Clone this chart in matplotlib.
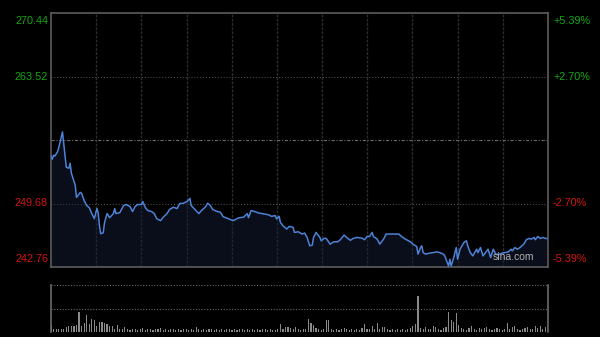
import numpy as np
import matplotlib.pyplot as plt
from matplotlib.transforms import blended_transform_factory

plt.rcParams['font.family'] = ['Liberation Sans', 'DejaVu Sans']

# intraday price (minute of session, price)
minutes = [0, 1, 2, 3, 5, 6, 9, 11, 12, 14, 15, 16, 19, 20, 23, 24, 26, 28, 30, 32,
           34, 36, 37, 38, 39, 41, 42, 44, 46, 49, 50, 51, 54, 57, 59, 62, 64, 66, 68, 71,
           72, 74, 76, 79, 81, 83, 86, 88, 91, 93, 96, 99, 101, 104, 107, 109, 110, 113, 116, 118,
           121, 123, 125, 127, 130, 133, 135, 139, 143, 146, 148, 151, 154, 155, 157, 160, 163, 167, 171, 173,
           176, 177, 179, 180, 182, 185, 187, 190, 191, 194, 197, 199, 201, 203, 205, 206, 208, 211, 212, 214,
           216, 219, 222, 225, 227, 230, 232, 235, 237, 240, 244, 246, 248, 250, 252, 253, 256, 258, 261, 263,
           266, 270, 273, 275, 278, 282, 284, 287, 288, 290, 291, 292, 294, 297, 300, 303, 305, 308, 309, 312,
           313, 314, 316, 318, 319, 321, 324, 326, 327, 329, 331, 334, 335, 337, 339, 341, 343, 345, 347, 349,
           352, 354, 356, 359, 361, 362, 364, 366, 368, 371, 373, 375, 377, 379, 380, 382, 384, 386, 388, 389]
prices = [254.84, 254.51, 254.95, 254.84, 255.28, 255.72, 257.48, 254.95, 253.63, 253.52,
          254.07, 252.98, 251.66, 250.34, 250.89, 250.78, 250.01, 249.46, 249.24, 248.58,
          248.03, 249.13, 248.69, 247.26, 246.38, 246.49, 247.59, 248.58, 248.14, 248.58,
          249.13, 248.58, 248.69, 249.46, 249.57, 249.35, 248.80, 249.35, 249.57, 249.57,
          249.90, 249.24, 248.91, 248.80, 248.58, 248.03, 247.81, 248.18, 248.58, 249.02,
          249.27, 249.13, 249.68, 249.71, 249.93, 250.23, 249.46, 249.02, 248.58, 248.91,
          249.27, 249.71, 249.46, 249.02, 248.83, 248.72, 248.25, 248.03, 247.81, 248.03,
          248.14, 248.18, 248.58, 248.14, 248.91, 248.80, 248.64, 248.55, 248.44, 248.28,
          248.36, 248.00, 248.28, 247.63, 247.26, 246.90, 247.19, 247.08, 246.53, 246.60,
          246.35, 246.46, 245.98, 245.07, 245.14, 245.98, 246.53, 245.98, 245.62, 245.87,
          245.87, 245.25, 245.51, 245.51, 245.73, 246.24, 245.98, 245.67, 245.87, 245.98,
          245.91, 245.73, 246.09, 246.09, 246.53, 246.09, 245.80, 245.25, 245.80, 246.35,
          246.35, 246.35, 246.35, 246.09, 245.80, 245.51, 245.25, 244.99, 244.16, 244.88,
          245.07, 244.33, 244.16, 244.27, 244.33, 244.41, 244.33, 244.16, 243.97, 242.87,
          243.61, 242.87, 243.78, 244.88, 243.61, 244.70, 245.43, 245.62, 245.07, 244.33,
          243.97, 244.70, 244.33, 244.88, 243.97, 244.33, 244.70, 243.78, 244.70, 244.16,
          244.16, 244.27, 244.33, 244.41, 244.70, 244.51, 244.88, 244.70, 244.88, 245.25,
          245.73, 245.87, 245.80, 245.98, 245.73, 246.09, 245.87, 245.98, 245.87, 245.87]

# volume, one bar every 2 minutes (relative units)
volume = [7, 3, 3, 3, 3, 3, 5, 6, 6, 6,
          7, 20, 6, 9, 17, 8, 13, 12, 6, 10,
          10, 9, 8, 6, 6, 3, 7, 3, 3, 5,
          3, 2, 3, 3, 2, 3, 4, 2, 3, 3,
          2, 3, 3, 4, 2, 3, 2, 3, 3, 2,
          3, 2, 3, 3, 2, 3, 2, 5, 3, 2,
          3, 2, 3, 3, 2, 3, 2, 3, 2, 3,
          3, 2, 3, 2, 3, 3, 2, 3, 2, 3,
          2, 3, 2, 3, 3, 2, 3, 2, 2, 3,
          8, 3, 5, 5, 4, 3, 5, 3, 2, 3,
          3, 13, 9, 7, 4, 3, 2, 3, 12, 12,
          3, 2, 3, 2, 3, 4, 3, 2, 3, 2,
          3, 2, 4, 8, 3, 3, 6, 3, 9, 3,
          5, 5, 3, 2, 3, 2, 3, 2, 3, 2,
          3, 4, 6, 8, 36, 4, 3, 5, 3, 3,
          6, 5, 3, 2, 4, 5, 20, 12, 10, 19,
          7, 4, 3, 2, 4, 6, 3, 2, 4, 3,
          4, 5, 3, 2, 3, 4, 3, 2, 3, 9,
          3, 5, 6, 3, 2, 3, 4, 5, 3, 3,
          6, 4, 6, 3, 5]

prev_close = 256.60
left_labels = ['270.44', '263.52', '249.68', '242.76']
left_values = [270.44, 263.52, 249.68, 242.76]
right_labels = ['+5.39%', '+2.70%', '-2.70%', '-5.39%']

GREEN = '#12a812'
RED = '#d41414'
GRID = '#2c2c2c'
SESSION = 390

fig = plt.figure(figsize=(6, 3.37), dpi=100, facecolor='black')
ax = fig.add_axes([51/600, 1 - 267/337, 497/600, 254/337], facecolor='black')
axv = fig.add_axes([51/600, 1 - 332/337, 497/600, 47/337], facecolor='black')

# price panel
ymin, ymax = left_values[-1], left_values[0]
ax.set_xlim(0, SESSION)
ax.set_ylim(ymin, ymax)
for xv in np.linspace(0, SESSION, 12)[1:-1]:
    ax.axvline(xv, color=GRID, lw=1.0, ls=(0, (2, 1)), zorder=1)
for yv in [left_values[1], left_values[2]]:
    ax.axhline(yv, color='#585858', lw=0.7, ls=(0, (1, 2)), zorder=1)
ax.axhline(prev_close, color='#6a6a6a', lw=0.8, ls=(0, (3, 1.5, 1, 1.5)), zorder=1)

ax.fill_between(minutes, prices, ymin, color='#14203a', alpha=0.45, lw=0, zorder=2)
ax.plot(minutes, prices, color='#4d82d6', lw=1.1, zorder=3)

for sp in ax.spines.values():
    sp.set_color('#5c5c5c')
    sp.set_linewidth(1.2)
ax.set_xticks([])
ax.set_yticks([])

tr = blended_transform_factory(fig.transFigure, ax.transData)
vas = ['top', 'center', 'center', 'bottom']
offs = [-0.3, 0, 0, 0.3]
for i in range(4):
    c = GREEN if i < 2 else RED
    ax.text(48/600, left_values[i] + offs[i], left_labels[i], transform=tr, ha='right',
            va=vas[i], color=c, fontsize=7.8)
    ax.text(553/600, left_values[i] + offs[i], right_labels[i], transform=tr, ha='left',
            va=vas[i], color=c, fontsize=7.8)

ax.text(0.973, 0.02, 'sina.com', transform=ax.transAxes, ha='right', va='bottom',
        color='#b0b0b0', fontsize=7.5, zorder=4)

# volume panel
vx = np.arange(len(volume)) * 2
axv.bar(vx, volume, width=0.9, color='#8a8a8a', lw=0)
axv.set_xlim(0, SESSION)
axv.set_ylim(0, 47)
axv.axhline(23.5, color='#6a6a6a', lw=0.8, ls=(0, (1, 1.5)))
axv.axhline(47, color='#6a6a6a', lw=0.8, ls=(0, (1, 1.5)))
for side in ['top', 'bottom']:
    axv.spines[side].set_visible(False)
for side in ['left', 'right']:
    axv.spines[side].set_color('#6a6a6a')
    axv.spines[side].set_linewidth(1.2)
axv.set_xticks([])
axv.set_yticks([])

plt.savefig('out.png', dpi=100, facecolor='black')
